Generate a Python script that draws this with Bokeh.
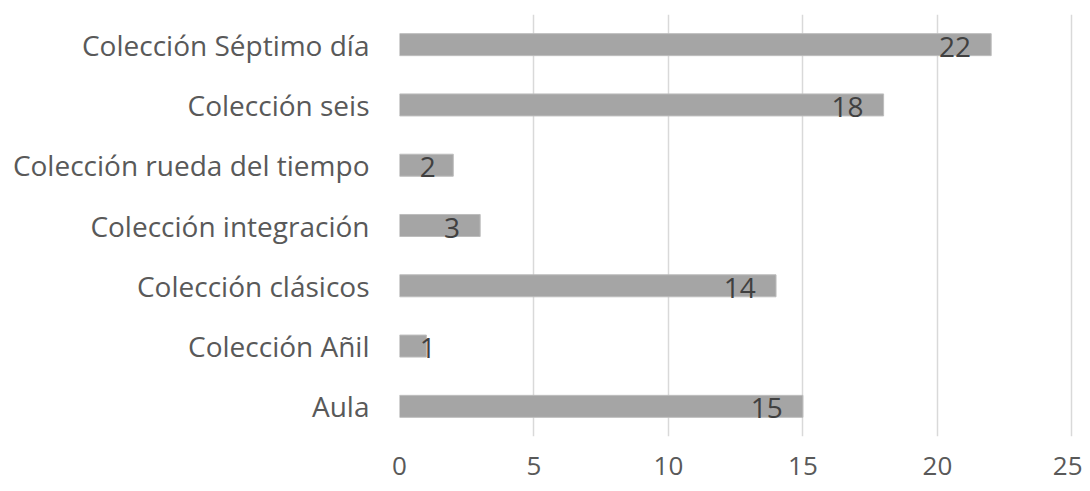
import numpy as np
from bokeh.plotting import figure
from bokeh.models import ColumnDataSource, FixedTicker, Range1d, FactorRange
from bokeh.core.properties import value
from bokeh.embed import file_html
from bokeh.resources import INLINE

categories = ["Colección Séptimo día", "Colección seis", "Colección rueda del tiempo",
              "Colección integración", "Colección clásicos", "Colección Añil", "Aula"]
counts = [22, 18, 2, 3, 14, 1, 15]
x_ticks = [0, 5, 10, 15, 20, 25]

FONT = "Open Sans"

factors = categories[::-1]
vals = np.array(counts, dtype=float)
src = ColumnDataSource(dict(
    cat=categories,
    val=vals,
    lab_x=np.maximum(vals - 0.75, 1.35),
    lab=[str(c) for c in counts],
))

p = figure(width=1082, height=483, output_backend="svg", toolbar_location=None,
           y_range=FactorRange(factors=factors, range_padding=0),
           x_range=Range1d(0, 25.06),
           min_border_left=399, min_border_right=9, min_border_top=14, min_border_bottom=47)

p.hbar(y="cat", right="val", left=0, height=0.365, source=src,
       fill_color="#A5A5A5", line_color="#BDBDBD", line_width=1)

p.text(x="lab_x", y="cat", text="lab", source=src, text_align="right",
       text_baseline="middle", y_offset=2, text_color="#404040",
       text_font=value(FONT), text_font_size="28px")

p.outline_line_color = None
p.ygrid.grid_line_color = None
p.xgrid.grid_line_color = "#D9D9D9"
p.xgrid.grid_line_width = 1.5
p.xaxis.ticker = FixedTicker(ticks=x_ticks)

for ax in (p.xaxis[0], p.yaxis[0]):
    ax.axis_line_color = None
    ax.major_tick_line_color = None
    ax.minor_tick_line_color = None
    ax.major_label_text_font = FONT
    ax.major_label_text_font_size = "28px"
    ax.major_label_text_color = "#595959"

p.xaxis.major_label_text_font_size = "26px"
p.yaxis.major_label_standoff = 24
p.xaxis.major_label_standoff = 14

p.background_fill_color = "white"
p.border_fill_color = "white"

open("out.html", "w").write(file_html(p, INLINE))
